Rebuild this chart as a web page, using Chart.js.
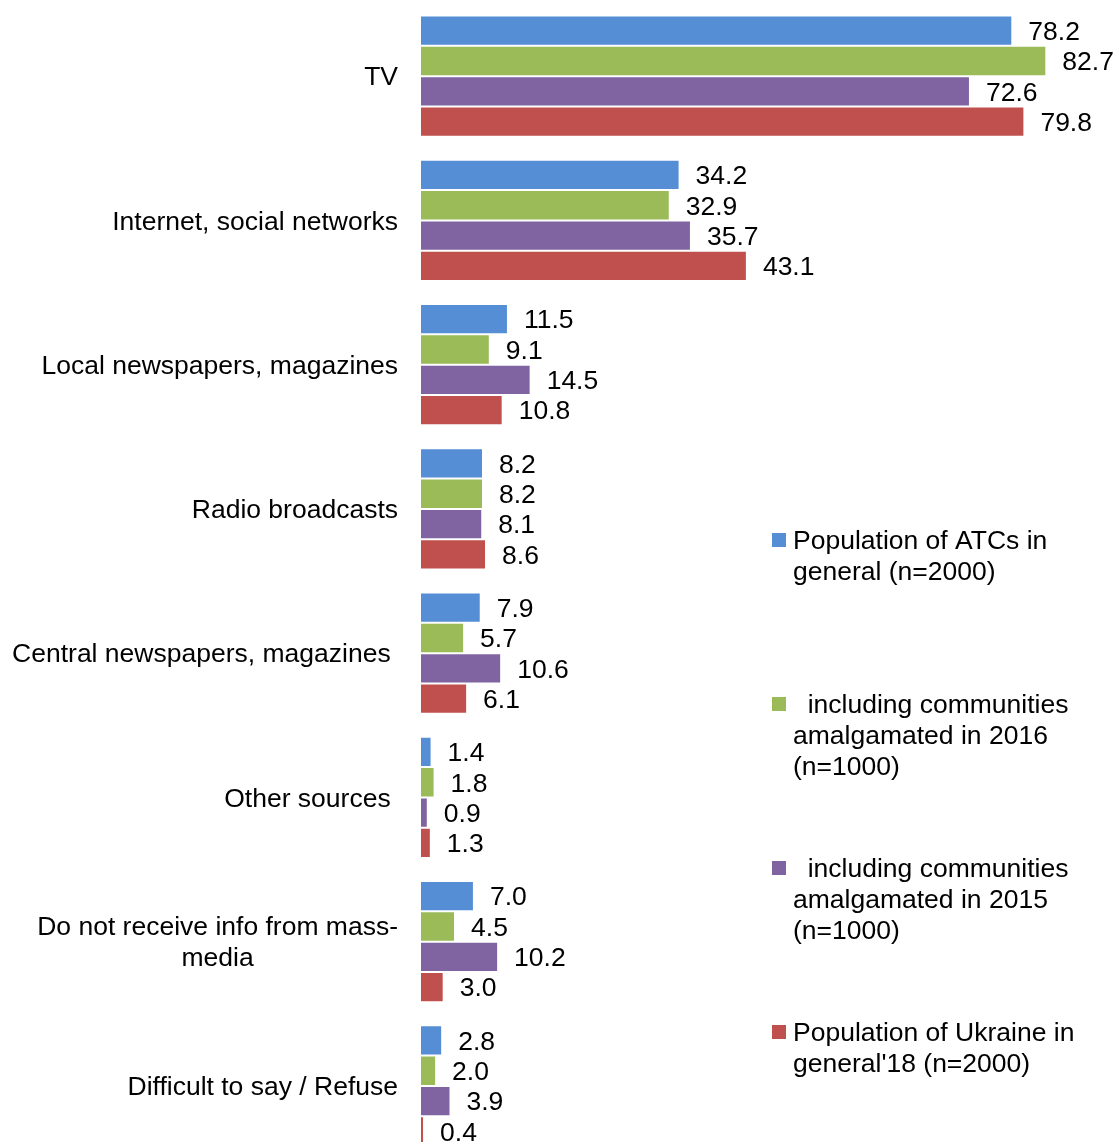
<!DOCTYPE html>
<html>
<head>
<meta charset="utf-8">
<script src="https://cdn.jsdelivr.net/npm/chart.js@4/dist/chart.umd.min.js"></script>
<style>
  html, body { margin: 0; padding: 0; background: #fff; }
  #wrap { width: 1114px; height: 1142px; overflow: hidden; }
  canvas { display: block; }
</style>
</head>
<body>
<div id="wrap"><canvas id="media-chart" width="1114" height="1160"></canvas></div>
<script>
    // Sources of information, % of respondents
    const categories = [
      "TV",
      "Internet, social networks",
      "Local newspapers, magazines",
      "Radio broadcasts",
      "Central newspapers, magazines ",
      "Other sources ",
      ["Do not receive info from mass-", "media"],
      "Difficult to say / Refuse",
    ];

    const atcTotal = [78.2, 34.2, 11.5, 8.2, 7.9, 1.4, 7.0, 2.8];
    const atc2016 = [82.7, 32.9, 9.1, 8.2, 5.7, 1.8, 4.5, 2.0];
    const atc2015 = [72.6, 35.7, 14.5, 8.1, 10.6, 0.9, 10.2, 3.9];
    const ukraine18 = [79.8, 43.1, 10.8, 8.6, 6.1, 1.3, 3.0, 0.4];

    const seriesNames = [
      ["Population of ATCs in", "general (n=2000)"],
      ["  including communities", "amalgamated in 2016", "(n=1000)"],
      ["  including communities", "amalgamated in 2015", "(n=1000)"],
      ["Population of Ukraine in", "general'18 (n=2000)"],
    ];
    const colors = ["#558ED5", "#9BBB59", "#8064A2", "#C0504D"];

    const FONT = "26.5px 'Liberation Sans', Arial, sans-serif";

    // Category names, right aligned next to the bars (multi-line ones centred)
    const categoryLabels = {
      id: "categoryLabels",
      afterDraw(chart) {
        const ctx = chart.ctx;
        const yScale = chart.scales.y;
        const right = chart.chartArea.left - 23;
        ctx.save();
        ctx.font = FONT;
        ctx.fillStyle = "#000";
        ctx.textBaseline = "middle";
        ctx.textAlign = "center";
        categories.forEach((cat, i) => {
          const lines = Array.isArray(cat) ? cat : [cat];
          const w = Math.max(...lines.map((l) => ctx.measureText(l).width));
          const cx = right - w / 2;
          const cy = yScale.getPixelForValue(i) + 2;
          const lh = 31;
          lines.forEach((line, j) => {
            ctx.fillText(line, cx, cy + (j - (lines.length - 1) / 2) * lh);
          });
        });
        ctx.restore();
      },
    };

    // Value labels at the end of each bar
    const valueLabels = {
      id: "valueLabels",
      afterDatasetsDraw(chart) {
        const ctx = chart.ctx;
        ctx.save();
        ctx.font = FONT;
        ctx.fillStyle = "#000";
        ctx.textAlign = "left";
        ctx.textBaseline = "middle";
        chart.data.datasets.forEach((ds, di) => {
          chart.getDatasetMeta(di).data.forEach((bar, i) => {
            ctx.fillText(ds.data[i].toFixed(1), bar.x + 16, bar.y + 2);
          });
        });
        ctx.restore();
      },
    };

    // Legend placed inside the plot, lower right
    const sideLegend = {
      id: "sideLegend",
      afterDraw(chart) {
        const ctx = chart.ctx;
        const tops = [540, 704, 868, 1032];
        ctx.save();
        ctx.font = FONT;
        ctx.textAlign = "left";
        ctx.textBaseline = "middle";
        chart.data.datasets.forEach((ds, di) => {
          const y = tops[di];
          ctx.fillStyle = ds.backgroundColor;
          ctx.fillRect(772, y - 7, 14, 14);
          ctx.fillStyle = "#000";
          ds.label.forEach((line, j) => {
            ctx.fillText(line, 793, y + 2 + j * 31);
          });
        });
        ctx.restore();
      },
    };

    const datasets = [atcTotal, atc2016, atc2015, ukraine18].map((values, i) => ({
      label: seriesNames[i],
      data: values,
      backgroundColor: colors[i],
      borderColor: "rgba(255,255,255,0.45)",
      borderWidth: 1,
      categoryPercentage: 0.84,
      barPercentage: 1.0,
    }));

    new Chart(document.getElementById("media-chart").getContext("2d"), {
      type: "bar",
      data: { labels: categories, datasets },
      options: {
        indexAxis: "y",
        responsive: false,
        animation: false,
        layout: { padding: { left: 421, right: 14, top: 4, bottom: 2 } },
        plugins: {
          legend: { display: false },
          tooltip: { enabled: false },
        },
        scales: {
          x: { min: 0, max: 89.8, display: false },
          y: { display: false },
        },
      },
      plugins: [valueLabels, categoryLabels, sideLegend],
    });
</script>
</body>
</html>
